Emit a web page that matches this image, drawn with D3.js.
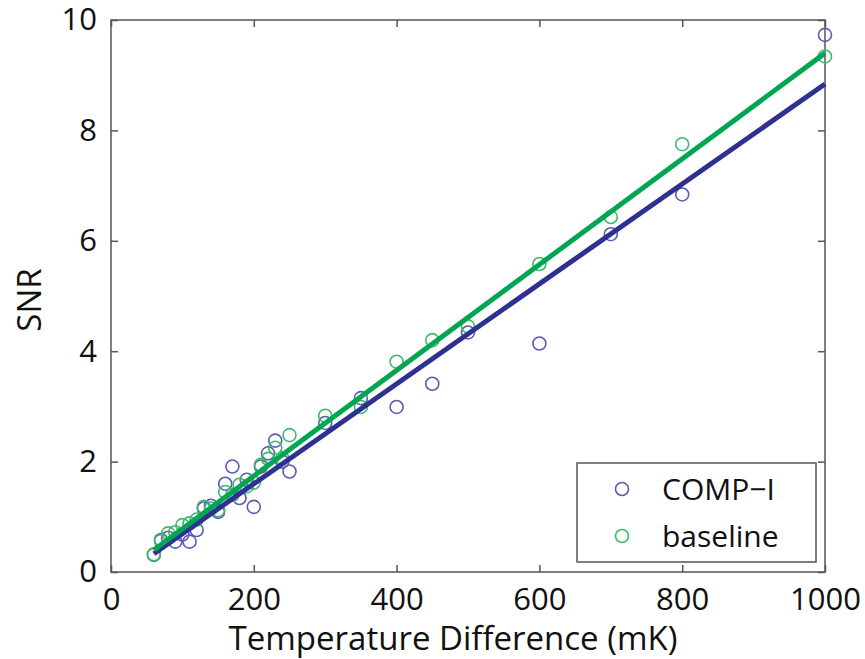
<!DOCTYPE html>
<html>
<head>
<meta charset="utf-8">
<script src="https://cdn.jsdelivr.net/npm/d3@7"></script>
<style>
  body { margin: 0; background: #fff; }
  text { font-family: "Open Sans", sans-serif; fill: #111; }
</style>
</head>
<body>
<div id="chart"></div>
<script>
// values
var tempDiff = [60, 70, 80, 90, 100, 110, 120, 130, 140, 150, 160, 170, 180, 190, 200,
                210, 220, 230, 240, 250, 300, 350, 400, 450, 500, 600, 700, 800, 1000];
var snrComp = [0.31, 0.58, 0.62, 0.55, 0.68, 0.55, 0.76, 1.15, 1.20, 1.09, 1.60, 1.91, 1.34, 1.67, 1.18,
               1.91, 2.15, 2.38, 2.00, 1.82, 2.70, 3.15, 2.99, 3.41, 4.34, 4.14, 6.12, 6.84, 9.73];
var snrBase = [0.32, 0.56, 0.70, 0.72, 0.85, 0.88, 0.95, 1.18, 1.15, 1.12, 1.45, 1.40, 1.58, 1.55, 1.62,
               1.94, 2.05, 2.25, 2.06, 2.48, 2.83, 2.99, 3.81, 4.20, 4.45, 5.58, 6.43, 7.75, 9.34];
// end points of the fitted lines
var fitX = [60, 1000];
var fitComp = [0.33, 8.84];
var fitBase = [0.40, 9.40];
var seriesNames = ["COMP\u2212I", "baseline"];
var xTicks = [0, 200, 400, 600, 800, 1000];
var yTicks = [0, 2, 4, 6, 8, 10];

var lineColors = ["#2e3192", "#00a651"];
var dotColors = ["#5a5cb0", "#3dba6c"];

var margin = { top: 20, right: 40, bottom: 87, left: 111 },
    width = 825 - margin.left,
    height = 572 - margin.top;

var svg = d3.select("#chart")
    .append("svg")
    .attr("width", 865)
    .attr("height", 659)
    .append("g")
    .attr("transform", "translate(" + margin.left + "," + margin.top + ")");

var x = d3.scaleLinear().domain([0, 1000]).range([0, width]);
var y = d3.scaleLinear().domain([0, 10]).range([height, 0]);

// axes: ticks point inward, also on top/right
function styleAxis(g) {
    g.select(".domain").remove();
    g.selectAll(".tick line").attr("stroke", "#555").attr("stroke-width", 1.5);
    g.selectAll(".tick text").style("font-size", "31px").attr("fill", "#111");
}
svg.append("g")
    .attr("transform", "translate(0," + height + ")")
    .call(d3.axisBottom(x).tickValues(xTicks).tickFormat(d3.format("d")).tickSize(-7).tickPadding(16))
    .call(styleAxis);
svg.append("g")
    .call(d3.axisLeft(y).tickValues(yTicks).tickFormat(d3.format("d")).tickSize(-7).tickPadding(14))
    .call(styleAxis);
svg.append("g")
    .call(d3.axisTop(x).tickValues(xTicks).tickSize(-7).tickFormat(""))
    .call(styleAxis);
svg.append("g")
    .attr("transform", "translate(" + width + ",0)")
    .call(d3.axisRight(y).tickValues(yTicks).tickSize(-7).tickFormat(""))
    .call(styleAxis);

svg.append("rect")
    .attr("width", width).attr("height", height)
    .attr("fill", "none").attr("stroke", "#555").attr("stroke-width", 1.5);

// axis labels
svg.append("text")
    .attr("x", 453 - margin.left)
    .attr("y", height + 78)
    .attr("text-anchor", "middle")
    .style("font-size", "33px")
    .text("Temperature Difference (mK)");
svg.append("text")
    .attr("transform", "translate(" + (-70) + "," + (height / 2 + 4) + ") rotate(-90)")
    .attr("text-anchor", "middle")
    .style("font-size", "33px")
    .text("SNR");

// scatter points
var groups = [snrComp, snrBase];
groups.forEach(function (vals, i) {
    svg.append("g").selectAll("circle")
        .data(tempDiff.map(function (t, j) { return { t: t, v: vals[j] }; }))
        .enter()
        .append("circle")
        .attr("cx", function (d) { return x(d.t); })
        .attr("cy", function (d) { return y(d.v); })
        .attr("r", 6.5)
        .attr("fill", "none")
        .attr("stroke", dotColors[i])
        .attr("stroke-width", 1.6);
});

// fitted lines
var line = d3.line()
    .x(function (d) { return x(d[0]); })
    .y(function (d) { return y(d[1]); });
[fitComp, fitBase].forEach(function (f, i) {
    svg.append("path")
        .attr("d", line(fitX.map(function (t, j) { return [t, f[j]]; })))
        .attr("stroke", lineColors[i])
        .attr("stroke-width", 5)
        .attr("fill", "none");
});

// legend
var lg = svg.append("g").attr("transform", "translate(" + (577 - margin.left) + "," + (463 - margin.top) + ")");
lg.append("rect")
    .attr("width", 239).attr("height", 99)
    .attr("fill", "#fff").attr("stroke", "#555").attr("stroke-width", 1.5);
seriesNames.forEach(function (name, i) {
    lg.append("circle")
        .attr("cx", 45).attr("cy", 26 + i * 47)
        .attr("r", 6.5)
        .attr("fill", "none")
        .attr("stroke", dotColors[i])
        .attr("stroke-width", 1.6);
    lg.append("text")
        .attr("x", 85).attr("y", 26 + i * 47)
        .attr("dy", "0.35em")
        .style("font-size", "30px")
        .text(name);
});
</script>
</body>
</html>
